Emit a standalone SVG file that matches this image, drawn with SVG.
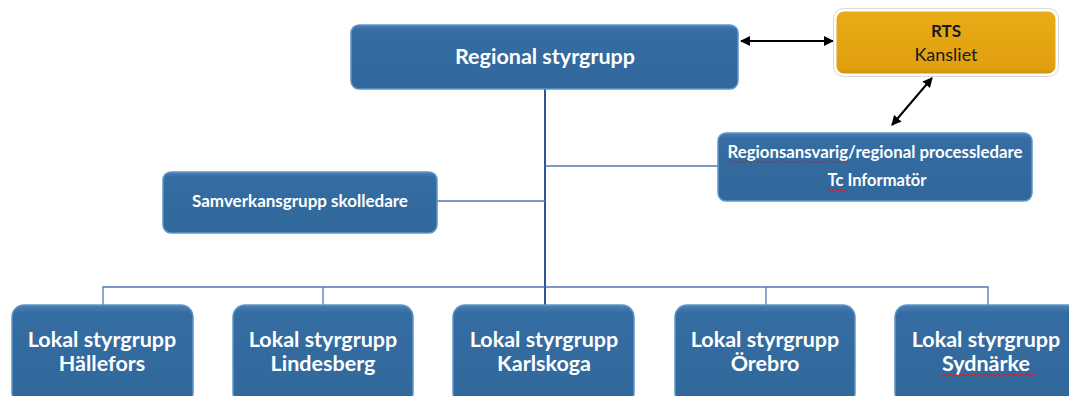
<svg xmlns="http://www.w3.org/2000/svg" width="1069" height="396" viewBox="0 0 1069 396">
<style>
.box{fill:url(#blueg);stroke:#5f95c9;stroke-width:1.5}
.t{font-family:Lato,"Open Sans","Liberation Sans",sans-serif;font-weight:bold;fill:#ffffff;text-anchor:middle}
.k{font-family:Lato,"Open Sans","Liberation Sans",sans-serif;fill:#1a1a1a;text-anchor:middle}
.c{stroke:#4f78b8;stroke-width:1.3;fill:none}
.a{stroke:#000;stroke-width:2;fill:none;marker-start:url(#ah);marker-end:url(#ah)}
.w{stroke:#d02020;stroke-width:1;fill:none}
</style>
<defs>
<linearGradient id="blueg" x1="0" y1="0" x2="0" y2="1">
<stop offset="0" stop-color="#4a80b6"/>
<stop offset="0.08" stop-color="#356ca1"/>
<stop offset="1" stop-color="#31689c"/>
</linearGradient>
<linearGradient id="goldg" x1="0" y1="0" x2="0" y2="1">
<stop offset="0" stop-color="#e9ab18"/>
<stop offset="0.9" stop-color="#e0a00f"/>
<stop offset="1" stop-color="#c88c08"/>
</linearGradient>
<marker id="ah" viewBox="0 0 10 10" refX="9" refY="5" markerWidth="5" markerHeight="5" orient="auto-start-reverse">
<path d="M0,0 L10,5 L0,10 Z" fill="#000"/>
</marker>
</defs>
<g id="connectors">
<line class="c" x1="545" y1="89" x2="545" y2="287" style="stroke:#2f5597;stroke-width:2"/>
<line class="c" x1="545" y1="166" x2="718" y2="166"/>
<line class="c" x1="437" y1="201" x2="545" y2="201"/>
<polyline class="c" points="103,305 103,287 988,287 988,305"/>
<line class="c" x1="323" y1="287" x2="323" y2="305"/>
<line class="c" x1="766" y1="287" x2="766" y2="305"/>
<line class="c" x1="545" y1="287" x2="545" y2="305" style="stroke:#2f5597;stroke-width:2"/>
<line class="a" x1="741" y1="41" x2="833" y2="41"/>
<line class="a" x1="892" y1="125" x2="932" y2="78"/>
</g>
<g id="regional">
<rect class="box" x="351" y="25" width="387" height="64" rx="8"/>
<text class="t" x="545" y="64" font-size="21.5">Regional styrgrupp</text>
</g>
<g id="rts">
<rect x="835" y="10" width="222" height="65" rx="9" fill="url(#goldg)" stroke="#ffffff" stroke-width="3"/>
<rect x="833.5" y="8.5" width="225" height="68" rx="10" fill="none" stroke="#d8d8d8" stroke-width="1"/>
<text class="k" x="946" y="37" font-size="17" font-weight="bold">RTS</text>
<text class="k" x="946" y="61" font-size="18">Kansliet</text>
</g>
<g id="regionsansvarig">
<rect class="box" x="718" y="133" width="314" height="68" rx="8"/>
<text class="t" x="875" y="158" font-size="16.5" textLength="295" lengthAdjust="spacingAndGlyphs">Regionsansvarig/regional processledare</text>
<text class="t" x="877" y="186" font-size="16.5">Tc Informatör</text>
<path class="w" d="M728,162 q1.5,-2 3,0 t3,0 t3,0 t3,0 t3,0 t3,0 t3,0 t3,0 t3,0 t3,0 t3,0 t3,0 t3,0 t3,0 t3,0 t3,0 t3,0 t3,0 t3,0 t3,0 t3,0 t3,0 t3,0 t3,0 t3,0 t3,0 t3,0 t3,0 t3,0 t3,0 t3,0 t3,0 t3,0 t3,0 t3,0 t3,0 t3,0 t3,0 t3,0 t3,0"/>
<path class="w" d="M827,190 q1.5,-2 3,0 t3,0 t3,0 t3,0 t3,0 t3,0"/>
</g>
<g id="samverkan">
<rect class="box" x="163" y="172" width="274" height="61" rx="8"/>
<text class="t" x="300" y="207" font-size="17">Samverkansgrupp skolledare</text>
</g>
<g id="lokal1">
<rect class="box" x="12" y="305" width="181" height="100" rx="12"/>
<text class="t" x="102" y="347" font-size="21.5">Lokal styrgrupp</text>
<text class="t" x="102" y="371" font-size="21.5">Hällefors</text>
</g>
<g id="lokal2">
<rect class="box" x="233" y="305" width="180" height="100" rx="12"/>
<text class="t" x="323" y="347" font-size="21.5">Lokal styrgrupp</text>
<text class="t" x="323" y="371" font-size="21.5">Lindesberg</text>
</g>
<g id="lokal3">
<rect class="box" x="453" y="305" width="181" height="100" rx="12"/>
<text class="t" x="544" y="347" font-size="21.5">Lokal styrgrupp</text>
<text class="t" x="544" y="371" font-size="21.5">Karlskoga</text>
</g>
<g id="lokal4">
<rect class="box" x="675" y="305" width="180" height="100" rx="12"/>
<text class="t" x="765" y="347" font-size="21.5">Lokal styrgrupp</text>
<text class="t" x="765" y="371" font-size="21.5">Örebro</text>
</g>
<g id="lokal5">
<rect class="box" x="895" y="305" width="185" height="100" rx="12"/>
<text class="t" x="986" y="347" font-size="21.5">Lokal styrgrupp</text>
<text class="t" x="986" y="371" font-size="21.5">Sydnärke</text>
<path class="w" d="M942,375 q1.5,-2 3,0 t3,0 t3,0 t3,0 t3,0 t3,0 t3,0 t3,0 t3,0 t3,0 t3,0 t3,0 t3,0 t3,0 t3,0 t3,0 t3,0 t3,0 t3,0 t3,0 t3,0 t3,0 t3,0 t3,0 t3,0 t3,0 t3,0 t3,0 t3,0 t3,0 t3,0"/>
</g>
</svg>
